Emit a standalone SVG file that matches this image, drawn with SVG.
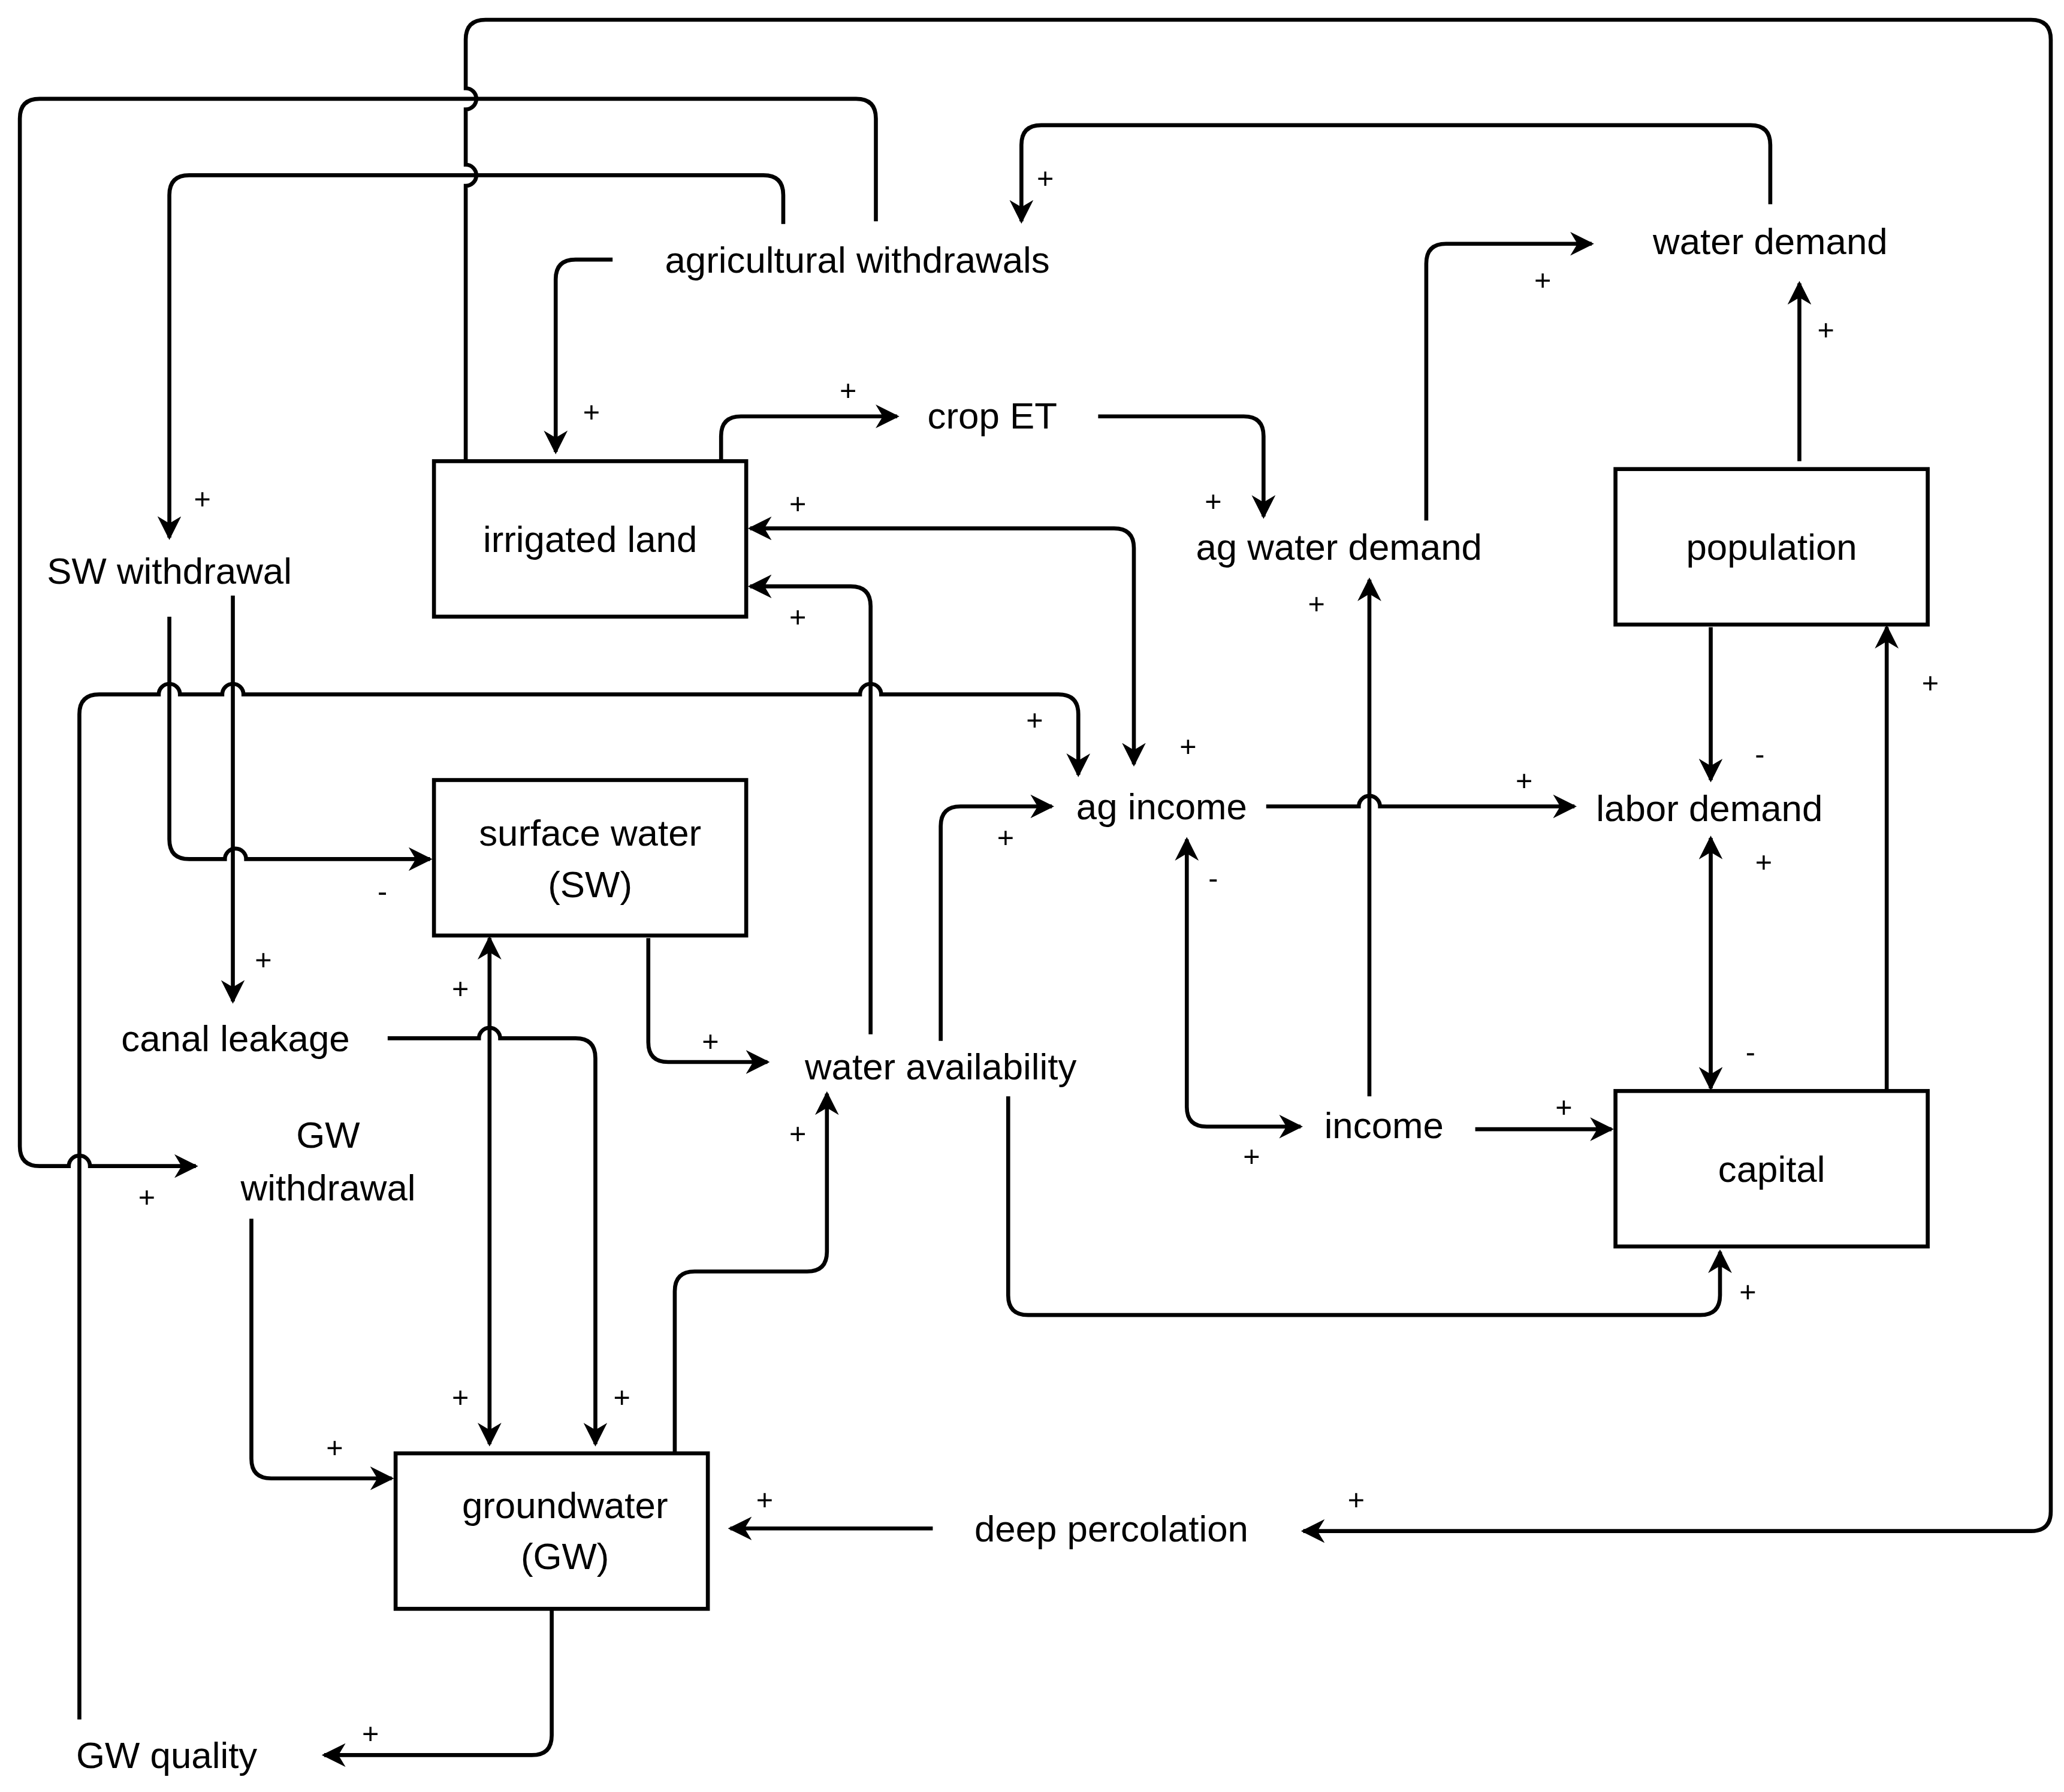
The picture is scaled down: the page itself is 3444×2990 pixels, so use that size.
<svg xmlns="http://www.w3.org/2000/svg" width="3444" height="2990" viewBox="0 0 3444 2990">
<style>
.b{fill:#fff;stroke:#000;stroke-width:3}
.t{font-family:"Liberation Sans",Arial,sans-serif;font-size:28px;fill:#000;text-anchor:middle}
.s{font-family:"Liberation Sans",Arial,sans-serif;font-size:22px;fill:#000;text-anchor:middle}
.c path{fill:none;stroke:#000;stroke-width:3}
.e{marker-end:url(#a)}
.d{marker-start:url(#a);marker-end:url(#a)}
</style>
<defs><marker id="a" viewBox="0 0 10 10" refX="9" refY="5" markerWidth="6" markerHeight="6" orient="auto-start-reverse"><path d="M0,0 L10,5 L0,10 L3,5 z" fill="#000"/></marker></defs>
<rect width="3444" height="2990" fill="#fff"/>
<g transform="scale(2.2077,2.1985)">
<g class="c" id="connectors">
<path d="M352 350 V141 A8 8 0 0 0 352 125 V83 A8 8 0 0 0 352 67 V30 Q352 15 367 15 H1535 Q1550 15 1550 30 V1147 Q1550 1162 1535 1162 H985" class="e"/>
<path d="M662 168 V90 Q662 75 647 75 H30 Q15 75 15 90 V870 Q15 885 30 885 H52 A8 8 0 0 1 68 885 H148" class="e"/>
<path d="M592 170 V148 Q592 133 577 133 H143 Q128 133 128 148 V408" class="e"/>
<path d="M463 197 H435 Q420 197 420 212 V343" class="e"/>
<path d="M1338 155 V110 Q1338 95 1323 95 H787 Q772 95 772 110 V168" class="e"/>
<path d="M545 350 V331 Q545 316 560 316 H678" class="e"/>
<path d="M830 316 H940 Q955 316 955 331 V392" class="e"/>
<path d="M1078 395 V200 Q1078 185 1093 185 H1203" class="e"/>
<path d="M1360 350 V215" class="e"/>
<path d="M857 580 V416 Q857 401 842 401 H567" class="d"/>
<path d="M658 785 V460 Q658 445 643 445 H567" class="e"/>
<path d="M128 468 V637 Q128 652 143 652 H170 A8 8 0 0 1 186 652 H325" class="e"/>
<path d="M176 452 V760" class="e"/>
<path d="M60 1305 V542 Q60 527 75 527 H120 A8 8 0 0 1 136 527 H168 A8 8 0 0 1 184 527 H650 A8 8 0 0 1 666 527 H800 Q815 527 815 542 V588" class="e"/>
<path d="M711 790 V627 Q711 612 726 612 H795" class="e"/>
<path d="M957 612 H1027 A8 8 0 0 1 1043 612 H1190" class="e"/>
<path d="M1035 832 V440" class="e"/>
<path d="M897 637 V840 Q897 855 912 855 H983" class="d"/>
<path d="M1115 857 H1218" class="e"/>
<path d="M1293 476 V592" class="e"/>
<path d="M1293 636 V826" class="d"/>
<path d="M1426 828 V476" class="e"/>
<path d="M762 832 V983 Q762 998 777 998 H1285 Q1300 998 1300 983 V950" class="e"/>
<path d="M490 712 V791 Q490 806 505 806 H580" class="e"/>
<path d="M370 712 V1096" class="d"/>
<path d="M293 788 H362 A8 8 0 0 1 378 788 H435 Q450 788 450 803 V1096" class="e"/>
<path d="M510 1103 V980 Q510 965 525 965 H610 Q625 965 625 950 V830" class="e"/>
<path d="M190 925 V1107 Q190 1122 205 1122 H296" class="e"/>
<path d="M705 1160 H552" class="e"/>
<path d="M417 1221 V1317 Q417 1332 402 1332 H245" class="e"/>
</g>
<g id="irrigated-land"><rect class="b" x="328" y="350" width="236" height="118"/><text class="t" x="446" y="419">irrigated land</text></g>
<g id="surface-water"><rect class="b" x="328" y="592" width="236" height="118"/><text class="t" x="446" y="642">surface water</text><text class="t" x="446" y="681">(SW)</text></g>
<g id="groundwater"><rect class="b" x="299" y="1103" width="236" height="118"/><text class="t" x="427" y="1152">groundwater</text><text class="t" x="427" y="1191">(GW)</text></g>
<g id="population"><rect class="b" x="1221" y="356" width="236" height="118"/><text class="t" x="1339" y="425">population</text></g>
<g id="capital"><rect class="b" x="1221" y="828" width="236" height="118"/><text class="t" x="1339" y="897">capital</text></g>
<g id="agricultural-withdrawals"><text class="t" x="648" y="207">agricultural withdrawals</text></g>
<g id="water-demand"><text class="t" x="1338" y="193">water demand</text></g>
<g id="crop-et"><text class="t" x="750" y="325">crop ET</text></g>
<g id="ag-water-demand"><text class="t" x="1012" y="425">ag water demand</text></g>
<g id="sw-withdrawal"><text class="t" x="128" y="443">SW withdrawal</text></g>
<g id="ag-income"><text class="t" x="878" y="622">ag income</text></g>
<g id="labor-demand"><text class="t" x="1292" y="623">labor demand</text></g>
<g id="canal-leakage"><text class="t" x="178" y="798">canal leakage</text></g>
<g id="water-availability"><text class="t" x="711" y="819">water availability</text></g>
<g id="income"><text class="t" x="1046" y="864">income</text></g>
<g id="gw-withdrawal"><text class="t" x="248" y="871">GW</text><text class="t" x="248" y="911">withdrawal</text></g>
<g id="deep-percolation"><text class="t" x="840" y="1170">deep percolation</text></g>
<g id="gw-quality"><text class="t" x="126" y="1342">GW quality</text></g>
<g id="signs">
<text class="s" x="1025" y="1146">+</text><text class="s" x="111" y="916">+</text><text class="s" x="153" y="386">+</text>
<text class="s" x="447" y="320">+</text><text class="s" x="790" y="143">+</text><text class="s" x="641" y="304">+</text>
<text class="s" x="917" y="388">+</text><text class="s" x="1166" y="220">+</text><text class="s" x="1380" y="258">+</text>
<text class="s" x="603" y="390">+</text><text class="s" x="898" y="574">+</text><text class="s" x="603" y="476">+</text>
<text class="s" x="289" y="684">-</text><text class="s" x="199" y="736">+</text><text class="s" x="782" y="554">+</text>
<text class="s" x="760" y="643">+</text><text class="s" x="1152" y="600">+</text><text class="s" x="995" y="466">+</text>
<text class="s" x="917" y="674">-</text><text class="s" x="946" y="885">+</text><text class="s" x="1182" y="848">+</text>
<text class="s" x="1330" y="580">-</text><text class="s" x="1333" y="662">+</text><text class="s" x="1323" y="806">-</text>
<text class="s" x="1459" y="526">+</text><text class="s" x="1321" y="988">+</text><text class="s" x="537" y="798">+</text>
<text class="s" x="348" y="758">+</text><text class="s" x="348" y="1068">+</text><text class="s" x="470" y="1068">+</text>
<text class="s" x="603" y="868">+</text><text class="s" x="253" y="1106">+</text><text class="s" x="578" y="1146">+</text>
<text class="s" x="280" y="1323">+</text>
</g>
</g>
</svg>
